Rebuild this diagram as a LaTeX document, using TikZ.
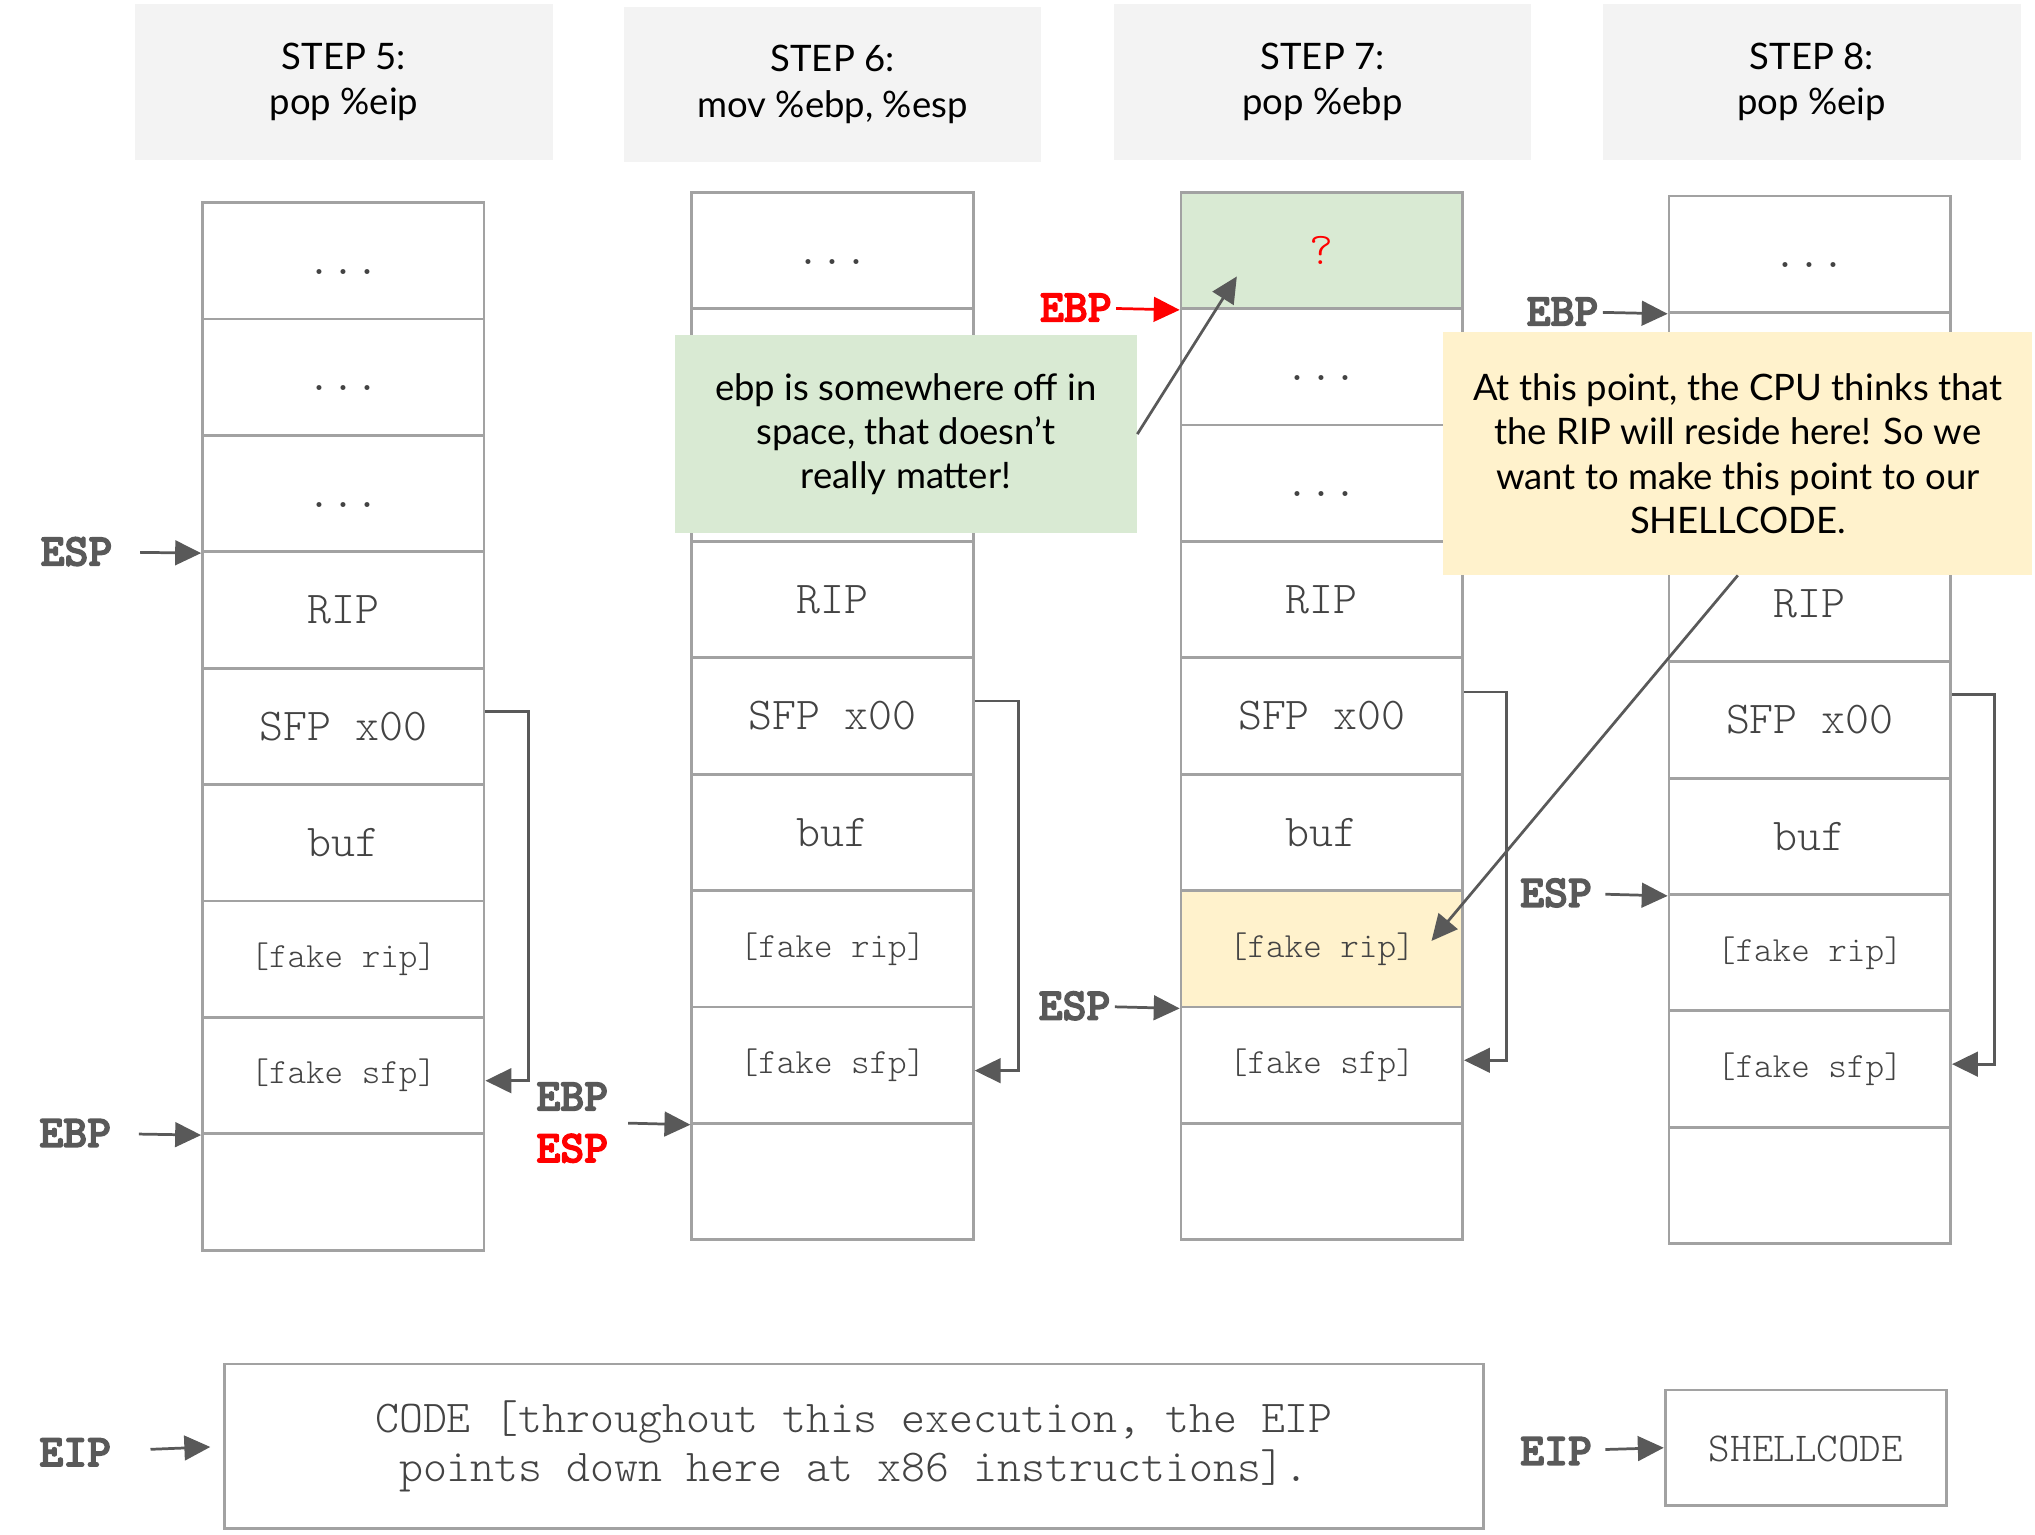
\documentclass[tikz,border=0pt]{standalone}
\usepackage{fontspec}
\setmainfont{Lato}
\setmonofont{lmmonolt10-regular.otf}[BoldFont=lmmonolt10-bold.otf, BoldFeatures={FakeBold=3}]
\usetikzlibrary{arrows.meta}
\definecolor{boxgray}{HTML}{A2A2A2}
\definecolor{headgray}{HTML}{F3F3F3}
\definecolor{ptrgray}{HTML}{595959}
\definecolor{txtgray}{HTML}{434343}
\definecolor{notegreen}{HTML}{D9EAD3}
\definecolor{noteyellow}{HTML}{FFF2CC}
\definecolor{ptrred}{HTML}{FF0000}
\tikzset{
  cell/.style={draw=boxgray, line width=1.2pt, minimum width=4.34cm, minimum height=1.794cm,
    inner sep=0pt, text=txtgray, text height=12pt, text depth=0pt,
    font=\ttfamily\fontsize{20}{22}\selectfont},
  small/.style={font=\ttfamily\fontsize{15.5}{17}\selectfont, text height=, text depth=},
  head/.style={fill=headgray, minimum width=6.44cm, minimum height=2.4cm, align=center,
    font=\fontsize{16}{19.9}\selectfont},
  reg/.style={text=ptrgray, inner sep=0pt, font=\ttfamily\bfseries\fontsize{20}{22.7}\selectfont},
  note/.style={align=center, inner sep=0pt, font=\fontsize{16}{19.4}\selectfont},
  ptr/.style={draw=ptrgray, line width=1.2pt, -{Triangle[length=0.4cm,width=0.38cm]}},
}
\begin{document}
\begin{tikzpicture}[x=0.02cm, y=-0.02cm]
  \useasboundingbox (0,0) rectangle (1568,1182.7);
  \node[head] (h5) at (265,63) {STEP 5:\\pop \%eip};
  \node[head] (h6) at (641.5,65) {STEP 6:\\mov \%ebp, \%esp};
  \node[head] (h7) at (1019,63) {STEP 7:\\pop \%ebp};
  \node[head] (h8) at (1396,63) {STEP 8:\\pop \%eip};

  \node[cell] (s5-1) at (264.5,200.9) {...};
  \node[cell] (s5-2) at (264.5,290.6) {...};
  \node[cell] (s5-3) at (264.5,380.3) {...};
  \node[cell] (s5-4) at (264.5,470.0) {RIP};
  \node[cell] (s5-5) at (264.5,559.7) {SFP x00};
  \node[cell] (s5-6) at (264.5,649.4) {buf};
  \node[cell, small] (s5-7) at (264.5,739.1) {[fake rip]};
  \node[cell, small] (s5-8) at (264.5,828.7) {[fake sfp]};
  \node[cell] (s5-9) at (264.5,918.4) {};

  \node[cell] (s6-1) at (641.5,192.9) {...};
  \node[cell] (s6-2) at (641.5,282.6) {};
  \node[cell] (s6-3) at (641.5,372.3) {};
  \node[cell] (s6-4) at (641.5,462.0) {RIP};
  \node[cell] (s6-5) at (641.5,551.7) {SFP x00};
  \node[cell] (s6-6) at (641.5,641.4) {buf};
  \node[cell, small] (s6-7) at (641.5,731.1) {[fake rip]};
  \node[cell, small] (s6-8) at (641.5,820.7) {[fake sfp]};
  \node[cell] (s6-9) at (641.5,910.4) {};

  \node[cell, fill=notegreen, text=ptrred] (s7-1) at (1018.5,192.9) {?};
  \node[cell] (s7-2) at (1018.5,282.6) {...};
  \node[cell] (s7-3) at (1018.5,372.3) {...};
  \node[cell] (s7-4) at (1018.5,462.0) {RIP};
  \node[cell] (s7-5) at (1018.5,551.7) {SFP x00};
  \node[cell] (s7-6) at (1018.5,641.4) {buf};
  \node[cell, small, fill=noteyellow] (s7-7) at (1018.5,731.1) {[fake rip]};
  \node[cell, small] (s7-8) at (1018.5,820.7) {[fake sfp]};
  \node[cell] (s7-9) at (1018.5,910.4) {};

  \node[cell] (s8-1) at (1394.5,195.9) {...};
  \node[cell] (s8-2) at (1394.5,285.6) {};
  \node[cell] (s8-3) at (1394.5,375.3) {};
  \node[cell] (s8-4) at (1394.5,465.0) {RIP};
  \node[cell] (s8-5) at (1394.5,554.7) {SFP x00};
  \node[cell] (s8-6) at (1394.5,644.4) {buf};
  \node[cell, small] (s8-7) at (1394.5,734.1) {[fake rip]};
  \node[cell, small] (s8-8) at (1394.5,823.7) {[fake sfp]};
  \node[cell] (s8-9) at (1394.5,913.4) {};

  \node[note, fill=notegreen, minimum width=7.12cm, minimum height=3.06cm] (green) at (698,334.5)
    {ebp is somewhere off in\\space, that doesn’t\\really matter!};
  \node[note, fill=noteyellow, minimum width=9.08cm, minimum height=3.74cm] (yellow) at (1339,349.5)
    {At this point, the CPU thinks that\\the RIP will reside here! So we\\want to make this point to our\\SHELLCODE.};
  \coordinate (qtip) at (953,213);
  \coordinate (riptip) at (1103,725);

  \node[cell, minimum width=19.4cm, minimum height=2.54cm, text height=, text depth=, align=center,
    font=\ttfamily\fontsize{20}{21.6}\selectfont] (code) at (658,1114.5)
    {CODE [throughout this execution, the EIP\\points down here at x86 instructions].};
  \node[cell, minimum height=1.78cm, font=\ttfamily\fontsize{18}{20}\selectfont] (shell) at (1391.5,1115.5) {SHELLCODE};

  \node[reg, anchor=east] (esp5) at (87,425) {ESP};
  \node[reg, anchor=east] (ebp5) at (86,873) {EBP};
  \node[reg, align=center] (ebpesp6) at (441,865) {EBP\\\textcolor{ptrred}{ESP}};
  \node[reg, anchor=east, text=ptrred] (ebp7) at (857,237) {EBP};
  \node[reg, anchor=east] (esp7) at (856,775) {ESP};
  \node[reg, anchor=east] (ebp8) at (1232,240) {EBP};
  \node[reg, anchor=east] (esp8) at (1227,688) {ESP};
  \node[reg, anchor=east] (eip) at (86,1119) {EIP};
  \node[reg, anchor=east] (eip8) at (1227,1118) {EIP};

  \begin{scope}[ptr]
    \draw[shorten <=0.42cm] (esp5) -- (s5-3.south west);
    \draw[shorten <=0.42cm] (ebp5) -- (s5-8.south west);
    \draw[shorten <=0.3cm] (ebpesp6.east) -- (s6-8.south west);
    \draw[draw=ptrred, shorten <=0.06cm] (ebp7) -- (s7-1.south west);
    \draw[shorten <=0.06cm] (esp7) -- (s7-7.south west);
    \draw[shorten <=0.06cm] (ebp8) -- (s8-1.south west);
    \draw[shorten <=0.2cm] (esp8) -- (s8-6.south west);
    \draw[shorten <=0.6cm, shorten >=0.2cm] (eip) -- (code.west);
    \draw[shorten <=0.2cm] (eip8) -- (shell.west);
    \draw (green.east) -- (qtip);
    \draw (yellow.south) -- (riptip);
    \draw ([yshift=0.234cm]s5-5.east) -- ++(33,0) |- ([yshift=-0.08cm]s5-8.east);
    \draw ([yshift=0.23cm]s6-5.east) -- ++(34,0) |- ([yshift=-0.085cm]s6-8.east);
    \draw ([yshift=0.37cm]s7-5.east) -- ++(33,0) |- ([yshift=0.075cm]s7-8.east);
    \draw ([yshift=0.39cm]s8-5.east) -- ++(33,0) |- ([yshift=0.075cm]s8-8.east);
  \end{scope}
\end{tikzpicture}
\end{document}
